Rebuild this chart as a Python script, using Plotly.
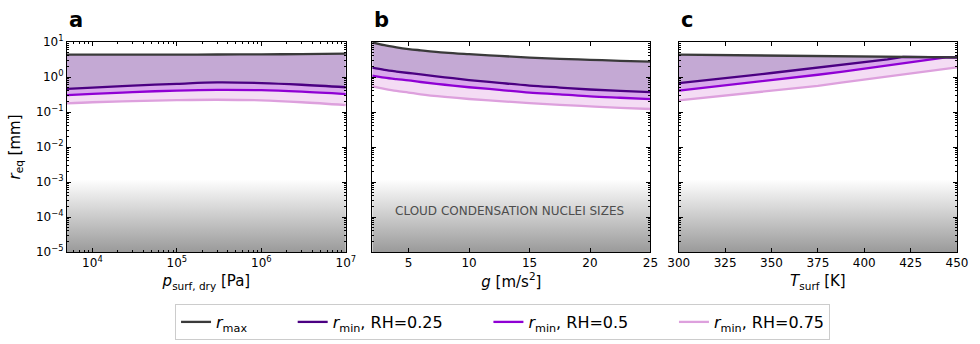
import plotly.graph_objects as go

# ---------------- data ----------------
# panel a: dry surface pressure [Pa]
p_surf = [5e3, 1e4, 3e4, 1e5, 3e5, 1e6, 3e6, 1e7]
a_rmax = [4.34, 4.35, 4.36, 4.37, 4.39, 4.43, 4.52, 4.64]
a_rh25 = [0.46, 0.50, 0.57, 0.64, 0.70, 0.67, 0.60, 0.51]
a_rh50 = [0.305, 0.33, 0.37, 0.41, 0.43, 0.42, 0.38, 0.326]
a_rh75 = [0.176, 0.19, 0.205, 0.218, 0.224, 0.215, 0.19, 0.158]

# panel b: surface gravity [m/s^2]
g_vals = [2, 3, 4, 5, 6, 8, 10, 12.5, 15, 17.5, 20, 22.5, 25]
b_rmax = [9.8, 8.1, 7.05, 6.3, 5.8, 5.0, 4.5, 4.0, 3.6, 3.3, 3.1, 2.9, 2.75]
b_rh25 = [1.85, 1.6, 1.43, 1.30, 1.18, 0.98, 0.82, 0.68, 0.57, 0.50, 0.44, 0.40, 0.37]
b_rh50 = [1.10, 0.96, 0.87, 0.80, 0.72, 0.60, 0.51, 0.43, 0.36, 0.32, 0.28, 0.255, 0.234]
b_rh75 = [0.54, 0.46, 0.40, 0.36, 0.32, 0.27, 0.235, 0.205, 0.18, 0.16, 0.145, 0.132, 0.122]

# panel c: surface temperature [K]
t_surf = [300, 312.5, 325, 337.5, 350, 362.5, 375, 387.5, 400, 412.5, 421, 425, 437.5, 444, 450]
c_rmax = [4.34, 4.28, 4.21, 4.15, 4.09, 4.03, 3.97, 3.91, 3.86, 3.80, 3.76, 3.74, 3.69, 3.66, 3.63]
c_rh25 = [0.67, 0.78, 0.92, 1.09, 1.30, 1.55, 1.85, 2.2, 2.65, 3.2, 3.76, 3.74, 3.69, 3.66, 3.63]
c_rh50 = [0.41, 0.485, 0.575, 0.68, 0.81, 0.955, 1.16, 1.41, 1.74, 2.14, 2.45, 2.63, 3.24, 3.66, 3.63]
c_rh75 = [0.214, 0.25, 0.29, 0.34, 0.40, 0.46, 0.56, 0.69, 0.84, 1.02, 1.17, 1.26, 1.54, 1.70, 1.88]

# y axis ticks
y_tickvals = [1e-5, 1e-4, 1e-3, 1e-2, 1e-1, 1e0, 1e1]
y_ticktext = ["10<sup>−5</sup>", "10<sup>−4</sup>", "10<sup>−3</sup>", "10<sup>−2</sup>",
              "10<sup>−1</sup>", "10<sup>0</sup>", "10<sup>1</sup>"]
pa_tickvals = [1e4, 1e5, 1e6, 1e7]
pa_ticktext = ["10<sup>4</sup>", "10<sup>5</sup>", "10<sup>6</sup>", "10<sup>7</sup>"]
g_tickvals = [5, 10, 15, 20, 25]
t_tickvals = [300, 325, 350, 375, 400, 425, 450]

ccn_range = [1e-5, 1.2e-3]
x_ranges = [[5e3, 1e7], [2, 25], [300, 450]]

panel_letters = ["a", "b", "c"]
PAD = "&nbsp;" * 8
legend_names = ["<i>r</i><sub>max</sub>" + PAD, "<i>r</i><sub>min</sub>, RH=0.25" + PAD,
                "<i>r</i><sub>min</sub>, RH=0.5" + PAD, "<i>r</i><sub>min</sub>, RH=0.75"]

# ---------------- style ----------------
FONT = "DejaVu Sans"
col_max = "#3a3a3a"
col_25 = "#4b0082"
col_50 = "#8f00d4"
col_75 = "#dda0dd"
fill_max = "#c4a9d4"
fill_25 = "#d9a8ec"
fill_50 = "#f4dcf4"

fig = go.Figure()

panels = [
    (p_surf, a_rmax, a_rh25, a_rh50, a_rh75, "spline"),
    (g_vals, b_rmax, b_rh25, b_rh50, b_rh75, "spline"),
    (t_surf, c_rmax, c_rh25, c_rh50, c_rh75, "linear"),
]

for i, (xv, rmax, r25, r50, r75, shape) in enumerate(panels):
    xa = "x" if i == 0 else f"x{i+1}"
    ya = "y" if i == 0 else f"y{i+1}"
    x0, x1 = x_ranges[i]
    # gradient CCN region
    fig.add_trace(go.Scatter(
        x=[x0, x1, x1, x0, x0], y=[ccn_range[0], ccn_range[0], ccn_range[1], ccn_range[1], ccn_range[0]],
        mode="lines", line=dict(width=0), fill="toself",
        fillgradient=dict(type="vertical", colorscale=[[0, "#9a9a9a"], [1, "#ffffff"]]),
        xaxis=xa, yaxis=ya, showlegend=False, hoverinfo="skip"))
    # fills
    fig.add_trace(go.Scatter(x=xv, y=r75, mode="lines", line=dict(width=0, shape=shape),
                             xaxis=xa, yaxis=ya, showlegend=False, hoverinfo="skip"))
    fig.add_trace(go.Scatter(x=xv, y=r50, mode="lines", line=dict(width=0, shape=shape),
                             fill="tonexty", fillcolor=fill_50,
                             xaxis=xa, yaxis=ya, showlegend=False, hoverinfo="skip"))
    fig.add_trace(go.Scatter(x=xv, y=r25, mode="lines", line=dict(width=0, shape=shape),
                             fill="tonexty", fillcolor=fill_25,
                             xaxis=xa, yaxis=ya, showlegend=False, hoverinfo="skip"))
    fig.add_trace(go.Scatter(x=xv, y=rmax, mode="lines", line=dict(width=0, shape=shape),
                             fill="tonexty", fillcolor=fill_max,
                             xaxis=xa, yaxis=ya, showlegend=False, hoverinfo="skip"))
    # lines
    for yv, col, name, rank in [(r75, col_75, legend_names[3], 4), (r50, col_50, legend_names[2], 3),
                                (r25, col_25, legend_names[1], 2), (rmax, col_max, legend_names[0], 1)]:
        fig.add_trace(go.Scatter(x=xv, y=yv, mode="lines",
                                 line=dict(color=col, width=2.3, shape=shape),
                                 name=name, legendrank=rank, legendgroup=name,
                                 showlegend=(i == 0), xaxis=xa, yaxis=ya))

domains = [[0.0, 0.3133], [0.343, 0.6556], [0.6874, 1.0]]
minor_y = [m * 10.0 ** k for k in range(-5, 1) for m in range(2, 10)]
minor_pa = [m * 10.0 ** k for k in range(3, 7) for m in range(2, 10)]

common_axis = dict(showline=True, linecolor="black", linewidth=1, mirror="allticks",
                   ticks="inside", ticklen=4, tickwidth=1, tickcolor="black",
                   showgrid=False, zeroline=False,
                   tickfont=dict(family=FONT, size=12, color="black"))

layout = dict(
    width=980, height=344,
    margin=dict(l=67, r=13, t=42, b=92),
    plot_bgcolor="white", paper_bgcolor="white",
    font=dict(family=FONT, color="black"),
    showlegend=True,
    legend=dict(orientation="h", xref="container", yref="container",
                x=0.5128, xanchor="center", y=1 - 304 / 344, yanchor="top",
                bordercolor="#cccccc", borderwidth=1, font=dict(family=FONT, size=16, color="black"),
                traceorder="normal", itemwidth=30),
)

for i in range(3):
    xk = "xaxis" if i == 0 else f"xaxis{i+1}"
    yk = "yaxis" if i == 0 else f"yaxis{i+1}"
    xa = dict(common_axis, domain=domains[i], anchor="y" if i == 0 else f"y{i+1}")
    if i == 0:
        xa.update(type="log", range=[3.69897, 7], tickmode="array", tickvals=pa_tickvals,
                  ticktext=pa_ticktext,
                  minor=dict(tickmode="array", tickvals=minor_pa, ticks="inside", ticklen=2,
                             tickcolor="black", showgrid=False),
                  title=dict(text="<i>p</i><sub>surf, dry</sub> [Pa]", font=dict(size=15), standoff=6))
    elif i == 1:
        xa.update(range=x_ranges[1], tickmode="array", tickvals=g_tickvals,
                  title=dict(text="<i>g</i> [m/s<sup>2</sup>]", font=dict(size=15), standoff=6))
    else:
        xa.update(range=x_ranges[2], tickmode="array", tickvals=t_tickvals,
                  title=dict(text="<i>T</i><sub>surf</sub> [K]", font=dict(size=15), standoff=6))
    ya = dict(common_axis, domain=[0, 1], type="log", range=[-5, 1], tickmode="array",
              tickvals=y_tickvals, ticktext=y_ticktext,
              anchor="x" if i == 0 else f"x{i+1}",
              minor=dict(tickmode="array", tickvals=minor_y, ticks="inside", ticklen=2,
                         tickcolor="black", showgrid=False))
    if i == 0:
        ya.update(title=dict(text="<i>r</i><sub>eq</sub> [mm]", font=dict(size=15), standoff=11))
    else:
        ya.update(showticklabels=False)
    layout[xk] = xa
    layout[yk] = ya

annotations = []
for i, letter in enumerate(panel_letters):
    xr = "x domain" if i == 0 else f"x{i+1} domain"
    annotations.append(dict(text=f"<b>{letter}</b>", xref=xr, yref="paper", x=0.0, y=1.04,
                            xanchor="left", yanchor="bottom", showarrow=False,
                            font=dict(family=FONT, size=21, color="black")))
annotations.append(dict(text="CLOUD CONDENSATION NUCLEI SIZES", xref="x2 domain", yref="y2",
                        x=0.493, y=-3.82, xanchor="center", yanchor="middle", showarrow=False,
                        font=dict(family=FONT, size=12, color="#4d4d4d")))
layout["annotations"] = annotations

fig.update_layout(**layout)
fig.write_html("out.html")
